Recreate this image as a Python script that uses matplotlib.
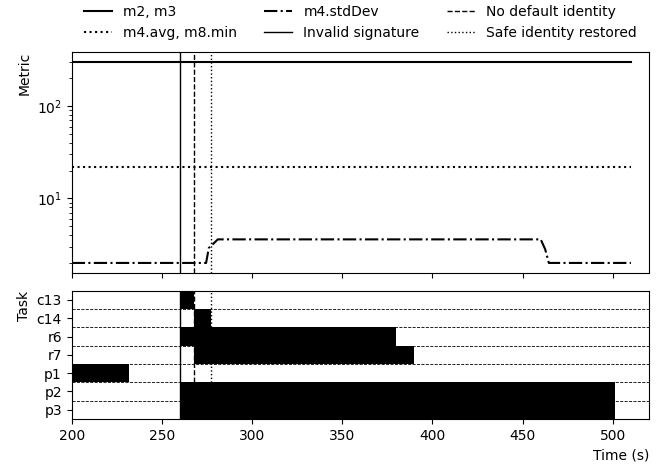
import matplotlib
matplotlib.use("Agg")
import matplotlib.pyplot as plt

# metric series (time in s)
m23_t = [200, 510]
m23_v = [300, 300]
avg_t = [200, 510]
avg_v = [22, 22]
std_t = [200, 274.5, 276, 281, 460, 462.5, 464.5, 510]
std_v = [2.0, 2.0, 2.9, 3.6, 3.6, 2.8, 2.0, 2.0]

# events
invalid_sig = 260
no_default = 268
safe_restored = 277

# task activity: (task, start, end)
tasks = ["c13", "c14", "r6", "r7", "p1", "p2", "p3"]
task_start = [260, 268, 260, 268, 195, 260, 260]
task_end = [268, 277, 380, 390, 232, 501, 501]


def plot_graph():
    fig = plt.figure(figsize=(6.62, 4.66), dpi=100)
    ax = fig.add_axes([0.1083, 0.4142, 0.872, 0.4742])
    ax2 = fig.add_axes([0.1083, 0.1009, 0.872, 0.2753], sharex=ax)

    ax.plot(m23_t, m23_v, color='black', linestyle='-', lw=1.5, label='m2, m3')
    ax.plot(avg_t, avg_v, color='black', linestyle=':', lw=1.5, label='m4.avg, m8.min')
    ax.plot(std_t, std_v, color='black', linestyle='-.', lw=1.5, label='m4.stdDev')
    ax.axvline(invalid_sig, color='black', linestyle='-', lw=1, label='Invalid signature')
    ax.axvline(no_default, color='black', linestyle='--', lw=1, label='No default identity')
    ax.axvline(safe_restored, color='black', linestyle=':', lw=1, label='Safe identity restored')
    ax.set_yscale('log')
    ax.set_ylabel('Metric', loc='top')
    ax.tick_params(labelbottom=False)
    ax.legend(loc='lower center', bbox_to_anchor=(0.5, 1.0), ncol=3, frameon=False)

    ypos = list(range(len(tasks)))
    for k in range(len(tasks) + 1):
        ax2.axhline(k - 0.5, color='black', linestyle='--', lw=0.6, zorder=1)
    widths = [e - s for s, e in zip(task_start, task_end)]
    ax2.barh(ypos, widths, left=task_start, height=1.0, color='black', zorder=2)
    ax2.axvline(invalid_sig, color='black', linestyle='-', lw=1, zorder=3)
    ax2.axvline(no_default, color='black', linestyle='--', lw=1, zorder=3)
    ax2.axvline(safe_restored, color='black', linestyle=':', lw=1, zorder=3)
    ax2.set_yticks(ypos)
    ax2.set_yticklabels(tasks)
    ax2.set_ylim(len(tasks) - 0.5, -0.5)
    ax2.set_ylabel('Task', loc='top')
    ax2.set_xlabel('Time (s)', loc='right')
    ax2.set_xticks([200, 250, 300, 350, 400, 450, 500])
    ax2.set_xlim(200, 520)

    fig.savefig('out.png', dpi=100)


if __name__ == "__main__":
    plot_graph()
